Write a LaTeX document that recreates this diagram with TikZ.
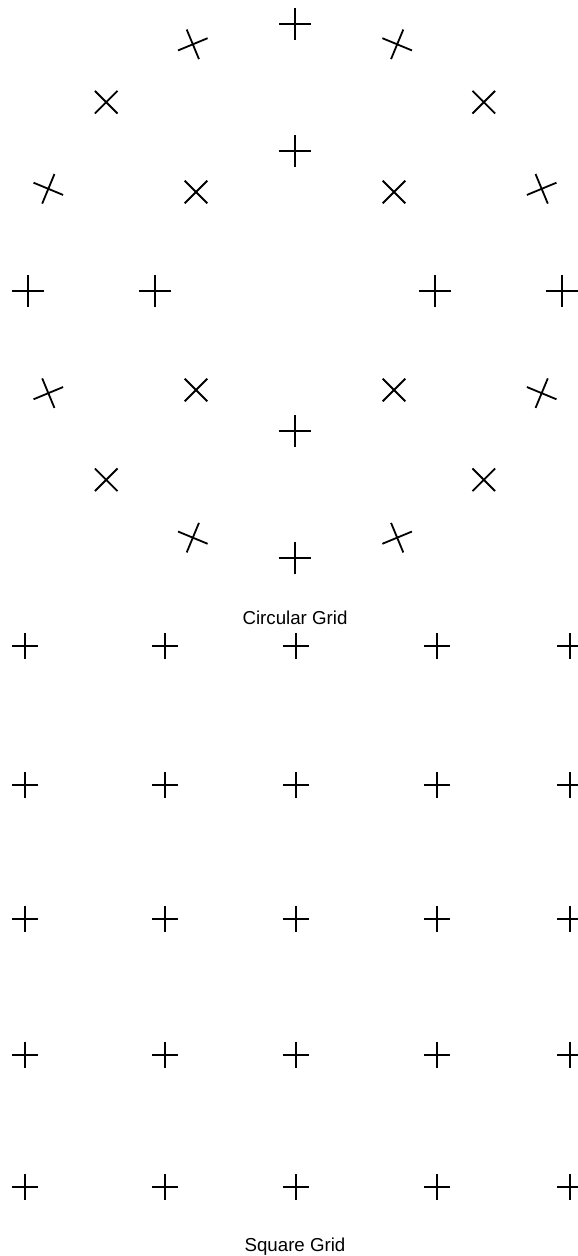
\documentclass[tikz,border=0pt]{standalone}
\usepackage{fontspec}
\setmainfont{Liberation Sans}

\begin{document}
\begin{tikzpicture}[
x=1pt,y=1pt,
crossline/.style={line width=1.8pt,black},
ringcross/.pic={\draw[crossline] (-16,0) -- (16,0) (0,-16) -- (0,16);},
gridcross/.pic={\draw[crossline] (-13,0) -- (13,0) (0,-13) -- (0,13);},
lbl/.style={font=\fontsize{18.7}{22}\selectfont}
]
\useasboundingbox (0,0) rectangle (578,1256);
% circular grid
\coordinate (ctr) at (295,965);
\foreach \a [count=\i] in {0,22.5,...,337.5} {
  \coordinate (out\i) at ([shift={(\a:267)}]ctr);
  \pic[rotate=\a] at (out\i) {ringcross};
}
\foreach \a [count=\i] in {0,45,...,315} {
  \coordinate (in\i) at ([shift={(\a:140)}]ctr);
  \pic[rotate=\a] at (in\i) {ringcross};
}
\node[lbl] (circlbl) at (295,638) {Circular Grid};
% square grid
\foreach \x [count=\i] in {25,165,296,437,570}
  \foreach \y [count=\j] in {610,471,337,201,69} {
    \coordinate (sq\i\j) at (\x,\y);
    \pic at (sq\i\j) {gridcross};
  }
\node[lbl] (sqlbl) at (295,9) {Square Grid};
\end{tikzpicture}
\end{document}
